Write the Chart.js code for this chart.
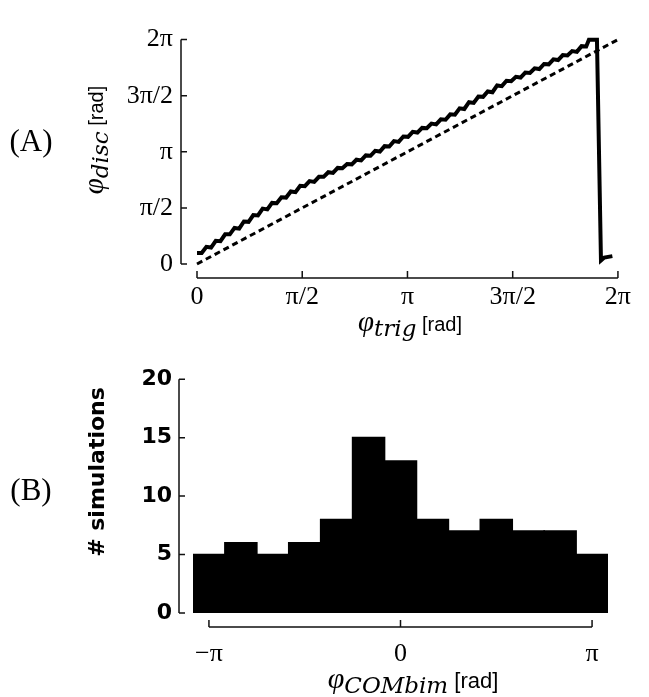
<!DOCTYPE html>
<html>
<head>
<meta charset="utf-8">
<script src="https://cdn.jsdelivr.net/npm/chart.js@4.4.1/dist/chart.umd.min.js"></script>
<style>
  body { margin: 0; background: #fff; }
  #wrap { position: relative; width: 649px; height: 697px; }
  canvas { position: absolute; left: 0; }
  #chartA { top: 0; }
  #chartB { top: 345px; }
</style>
</head>
<body>
<div id="wrap">
  <canvas id="chartA" width="649" height="345"></canvas>
  <canvas id="chartB" width="649" height="352"></canvas>
</div>
<script>
// (A) phase of disc vs trigger phase
var phiTrig = [
  0.00, 0.07, 0.14, 0.21, 0.28, 0.35, 0.42, 0.49, 0.56, 0.63,
  0.70, 0.77, 0.84, 0.91, 0.98, 1.05, 1.12, 1.19, 1.26, 1.33,
  1.40, 1.47, 1.54, 1.61, 1.68, 1.75, 1.82, 1.89, 1.96, 2.03,
  2.10, 2.17, 2.24, 2.31, 2.38, 2.45, 2.52, 2.59, 2.66, 2.73,
  2.80, 2.87, 2.94, 3.01, 3.08, 3.15, 3.22, 3.29, 3.36, 3.43,
  3.50, 3.57, 3.64, 3.71, 3.78, 3.85, 3.92, 3.99, 4.06, 4.13,
  4.20, 4.27, 4.34, 4.41, 4.48, 4.55, 4.62, 4.69, 4.76, 4.83,
  4.90, 4.97, 5.04, 5.11, 5.18, 5.25, 5.32, 5.39, 5.46, 5.53,
  5.60, 5.67, 5.74, 5.81, 5.85, 5.97, 6.03, 6.08, 6.20
];
var phiDisc = [
  0.31, 0.31, 0.48, 0.46, 0.65, 0.64, 0.83, 0.83, 1.01, 0.99,
  1.19, 1.18, 1.37, 1.36, 1.55, 1.53, 1.71, 1.70, 1.87, 1.86,
  2.03, 2.01, 2.19, 2.18, 2.32, 2.30, 2.44, 2.44, 2.57, 2.55,
  2.69, 2.68, 2.80, 2.79, 2.92, 2.90, 3.04, 3.03, 3.17, 3.15,
  3.30, 3.29, 3.44, 3.42, 3.57, 3.56, 3.70, 3.68, 3.81, 3.80,
  3.93, 3.91, 4.05, 4.04, 4.19, 4.18, 4.36, 4.34, 4.53, 4.51,
  4.69, 4.68, 4.83, 4.81, 5.00, 4.98, 5.13, 5.12, 5.24, 5.22,
  5.36, 5.35, 5.48, 5.46, 5.60, 5.59, 5.73, 5.71, 5.85, 5.84,
  5.96, 5.94, 6.10, 6.09, 6.28, 6.28, 0.10, 0.18, 0.22
];
var diagX = [0, 6.2832];
var diagY = [0, 6.2832];
var tickValsA = [0, 1.5708, 3.1416, 4.7124, 6.2832];
var tickLabelsA = ['0', 'π/2', 'π', '3π/2', '2π'];

// (B) histogram of simulations
var binCenters = [-3.1416, -2.618, -2.0944, -1.5708, -1.0472, -0.5236, 0, 0.5236, 1.0472, 1.5708, 2.0944, 2.618, 3.1416];
var simCounts = [5, 6, 5, 6, 8, 15, 13, 8, 7, 8, 7, 7, 5];
var xTickValsB = [-3.1416, 0, 3.1416];
var xTickLabelsB = ['−π', '0', 'π'];
var yTickValsB = [0, 5, 10, 15, 20];

var SERIF = '"Liberation Serif", serif';
var SANS = '"Liberation Sans", sans-serif';
var SUB = 'italic 23px "DejaVu Serif"';

// draws text made of pieces in different fonts, centred on (cx, baseline)
function drawParts(ctx, parts, cx, cy, rot) {
  ctx.save();
  ctx.translate(cx, cy);
  ctx.rotate(rot || 0);
  ctx.textAlign = 'left';
  ctx.textBaseline = 'alphabetic';
  ctx.fillStyle = '#000';
  var w = 0;
  parts.forEach(function(p) {
    ctx.font = p.font;
    p.w = ctx.measureText(p.text).width;
    w += p.w;
  });
  var px = -w / 2;
  parts.forEach(function(p) {
    ctx.font = p.font;
    ctx.fillText(p.text, px, p.dy || 0);
    px += p.w;
  });
  ctx.restore();
}

// offset axis lines with inward ticks, plus titles
var spines = {
  id: 'spines',
  afterDraw: function(chart, args, opts) {
    var ctx = chart.ctx, area = chart.chartArea;
    var xs = chart.scales.x, ys = chart.scales.y;
    var ax = area.left - opts.gapY;
    var ay = area.bottom + opts.gapX;
    var xt = xs.ticks, yt = ys.ticks;
    ctx.save();
    ctx.strokeStyle = '#111';
    ctx.lineWidth = 1.5;
    ctx.beginPath();
    ctx.moveTo(ax, ys.getPixelForValue(yt[0].value));
    ctx.lineTo(ax, ys.getPixelForValue(yt[yt.length - 1].value));
    yt.forEach(function(t) {
      var p = ys.getPixelForValue(t.value);
      ctx.moveTo(ax, p);
      ctx.lineTo(ax + 6, p);
    });
    ctx.moveTo(xs.getPixelForValue(xt[0].value), ay);
    ctx.lineTo(xs.getPixelForValue(xt[xt.length - 1].value), ay);
    xt.forEach(function(t) {
      var p = xs.getPixelForValue(t.value);
      ctx.moveTo(p, ay);
      ctx.lineTo(p, ay - 7);
    });
    ctx.stroke();
    ctx.restore();
    (opts.titles || []).forEach(function(t) {
      drawParts(ctx, t.parts, t.x, t.y, t.rot);
    });
  }
};

var tickFontA = { family: SERIF, size: 26 };

new Chart(document.getElementById('chartA'), {
  type: 'line',
  data: {
    datasets: [{
      data: phiTrig.map(function(v, i) { return { x: v, y: phiDisc[i] }; }),
      borderColor: '#000',
      borderWidth: 4,
      pointRadius: 0,
      tension: 0,
      clip: false
    }, {
      data: diagX.map(function(v, i) { return { x: v, y: diagY[i] }; }),
      borderColor: '#000',
      borderWidth: 3,
      borderDash: [6, 4],
      pointRadius: 0,
      clip: false
    }]
  },
  options: {
    responsive: false,
    animation: false,
    layout: { padding: { top: 19, right: 25, left: 0, bottom: 0 } },
    plugins: {
      legend: { display: false },
      tooltip: { enabled: false },
      spines: {
        gapY: 16, gapX: 14,
        titles: [
          { parts: [{ text: '(A)', font: '31px ' + SERIF }], x: 31, y: 151 },
          { parts: [
              { text: 'φ', font: 'italic 29px ' + SERIF },
              { text: 'disc', font: SUB, dy: 5 },
              { text: ' [rad]', font: '20px ' + SANS }
            ], x: 103, y: 140, rot: -Math.PI / 2 },
          { parts: [
              { text: 'φ', font: 'italic 29px ' + SERIF },
              { text: 'trig', font: SUB, dy: 5 },
              { text: ' [rad]', font: '20px ' + SANS }
            ], x: 410, y: 331 }
        ]
      }
    },
    scales: {
      x: {
        type: 'linear', min: 0, max: 6.2832,
        grid: { display: false, drawTicks: false },
        border: { display: false },
        afterBuildTicks: function(s) { s.ticks = tickValsA.map(function(v) { return { value: v }; }); },
        afterFit: function(s) { s.height = 81; },
        ticks: {
          callback: function(v, i) { return tickLabelsA[i]; },
          font: tickFontA, color: '#000', padding: 18, maxRotation: 0, autoSkip: false
        }
      },
      y: {
        type: 'linear', min: 0, max: 6.2832,
        grid: { display: false, drawTicks: false },
        border: { display: false },
        afterBuildTicks: function(s) { s.ticks = tickValsA.map(function(v) { return { value: v }; }); },
        afterFit: function(s) { s.width = 197; },
        ticks: {
          callback: function(v, i) { return tickLabelsA[i]; },
          font: tickFontA, color: '#000', padding: 24, autoSkip: false
        }
      }
    }
  },
  plugins: [spines]
});

new Chart(document.getElementById('chartB'), {
  type: 'bar',
  data: {
    datasets: [{
      data: binCenters.map(function(c, i) { return { x: c, y: simCounts[i] }; }),
      backgroundColor: '#000',
      borderWidth: 0,
      inflateAmount: 0.8,
      barPercentage: 1,
      categoryPercentage: 1
    }]
  },
  options: {
    responsive: false,
    animation: false,
    layout: { padding: { top: 23, right: 41, left: 0, bottom: 0 } },
    plugins: {
      legend: { display: false },
      tooltip: { enabled: false },
      spines: {
        gapY: 14, gapX: 14,
        titles: [
          { parts: [{ text: '(B)', font: '31px ' + SERIF }], x: 31, y: 155 },
          { parts: [{ text: '# simulations', font: 'bold 22px "DejaVu Sans"' }], x: 104, y: 127, rot: -Math.PI / 2 },
          { parts: [
              { text: 'φ', font: 'italic 30px ' + SERIF },
              { text: 'COMbim', font: SUB, dy: 5 },
              { text: ' [rad]', font: '22px ' + SANS }
            ], x: 413, y: 343 }
        ]
      }
    },
    scales: {
      x: {
        type: 'linear', min: -3.403, max: 3.403, offset: false,
        grid: { display: false, drawTicks: false },
        border: { display: false },
        afterBuildTicks: function(s) { s.ticks = xTickValsB.map(function(v) { return { value: v }; }); },
        afterFit: function(s) { s.height = 84; },
        ticks: {
          callback: function(v, i) { return xTickLabelsB[i]; },
          font: { family: SERIF, size: 26 }, color: '#000', padding: 26, maxRotation: 0, autoSkip: false
        }
      },
      y: {
        min: 0, max: 20,
        grid: { display: false, drawTicks: false },
        border: { display: false },
        afterBuildTicks: function(s) { s.ticks = yTickValsB.map(function(v) { return { value: v }; }); },
        afterFit: function(s) { s.width = 193; },
        ticks: {
          callback: function(v, i) { return String(yTickValsB[i]); },
          font: { family: '"DejaVu Sans"', size: 22, weight: 'bold' }, color: '#000', padding: 21, autoSkip: false
        }
      }
    }
  },
  plugins: [spines]
});
</script>
</body>
</html>
